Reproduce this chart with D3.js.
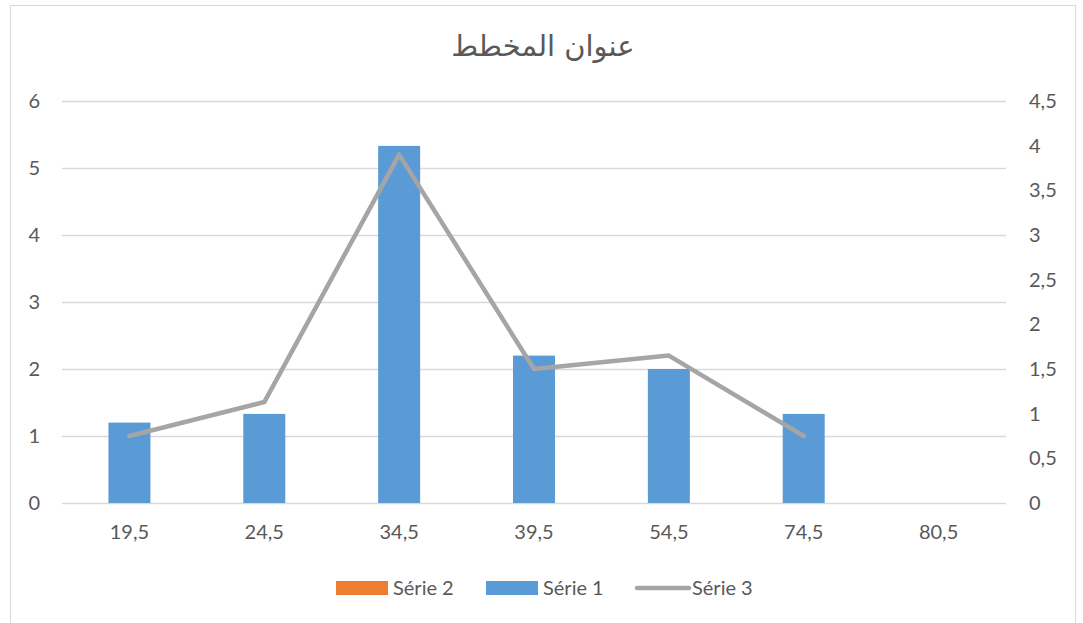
<!DOCTYPE html>
<html>
<head>
<meta charset="utf-8">
<script src="https://cdn.jsdelivr.net/npm/d3@7"></script>
<style>
  body { margin: 0; background: #fff; }
  text { font-family: Lato, "Open Sans", sans-serif; fill: #595959; }
</style>
</head>
<body>
<div id="chart"></div>
<script>
// chart data
const categories = ["19,5", "24,5", "34,5", "39,5", "54,5", "74,5", "80,5"];
const serie1 = [1.2, 1.33, 5.33, 2.2, 2.0, 1.33, null];     // bars, left axis
const serie2 = [null, null, null, null, null, null, null];   // empty (orange)
const serie3 = [0.75, 1.13, 3.9, 1.5, 1.65, 0.75, null];     // line, right axis
const leftTicks = [0, 1, 2, 3, 4, 5, 6];
const rightTicks = [0, 0.5, 1, 1.5, 2, 2.5, 3, 3.5, 4, 4.5];
const title = "عنوان المخطط";

const width = 1083;
const height = 623;
const margin = { top: 101, right: 77, bottom: 120, left: 62 };
const fmt = d => String(d).replace(".", ",");

const svg = d3.select("#chart")
    .append("svg")
    .attr("width", width)
    .attr("height", height);

// chart border
svg.append("rect")
    .attr("x", 10.5).attr("y", 5.5)
    .attr("width", 1065).attr("height", 640)
    .attr("fill", "#fff")
    .attr("stroke", "#d9d9d9");

const xScale = d3.scaleBand()
    .domain(categories)
    .range([margin.left, width - margin.right]);

const yLeft = d3.scaleLinear()
    .domain([0, 6])
    .range([height - margin.bottom, margin.top]);

const yRight = d3.scaleLinear()
    .domain([0, 4.5])
    .range([height - margin.bottom, margin.top]);

// gridlines
svg.append("g")
    .selectAll("line")
    .data(leftTicks)
    .enter()
    .append("line")
    .attr("x1", margin.left)
    .attr("x2", width - margin.right)
    .attr("y1", d => Math.round(yLeft(d)) + 0.5)
    .attr("y2", d => Math.round(yLeft(d)) + 0.5)
    .attr("stroke", "#d9d9d9")
    .attr("stroke-width", 1.5);

// left axis
const leftAxis = svg.append("g")
    .attr("transform", `translate(${margin.left - 22},0)`)
    .call(d3.axisLeft(yLeft).tickValues(leftTicks).tickFormat(fmt).tickSize(0).tickPadding(0));
leftAxis.select(".domain").remove();
leftAxis.selectAll("text").style("font-size", "20px").attr("fill", "#595959");

// right axis
const rightAxis = svg.append("g")
    .attr("transform", `translate(${width - margin.right + 23},0)`)
    .call(d3.axisRight(yRight).tickValues(rightTicks).tickFormat(fmt).tickSize(0).tickPadding(0));
rightAxis.select(".domain").remove();
rightAxis.selectAll("text").style("font-size", "20px").attr("fill", "#595959");

// x axis labels
const xAxis = svg.append("g")
    .attr("transform", `translate(0,${height - margin.bottom + 22})`)
    .call(d3.axisBottom(xScale).tickSize(0).tickPadding(0));
xAxis.select(".domain").remove();
xAxis.selectAll("text").style("font-size", "20px").attr("fill", "#595959");

// bars (Série 1)
const barW = 42;
svg.append("g")
    .selectAll("rect")
    .data(categories.map((c, i) => ({ c, v: serie1[i] })).filter(d => d.v != null))
    .enter()
    .append("rect")
    .attr("x", d => xScale(d.c) + xScale.bandwidth() / 2 - barW / 2)
    .attr("y", d => yLeft(d.v))
    .attr("width", barW)
    .attr("height", d => yLeft(0) - yLeft(d.v))
    .attr("fill", "#5b9bd5");

// line (Série 3)
const line = d3.line()
    .defined(d => d.v != null)
    .x(d => xScale(d.c) + xScale.bandwidth() / 2)
    .y(d => yRight(d.v));

svg.append("path")
    .datum(categories.map((c, i) => ({ c, v: serie3[i] })))
    .attr("d", line)
    .attr("fill", "none")
    .attr("stroke", "#a5a5a5")
    .attr("stroke-width", 4.5)
    .attr("stroke-linejoin", "round")
    .attr("stroke-linecap", "round");

// title
svg.append("text")
    .attr("x", 543)
    .attr("y", 56)
    .attr("text-anchor", "middle")
    .style("font-family", "'DejaVu Sans', sans-serif")
    .style("font-size", "29px")
    .text(title);

// legend
const legend = svg.append("g");
const legendItems = [
    { name: "Série 2", color: "#ed7d31", type: "rect", x: 336 },
    { name: "Série 1", color: "#5b9bd5", type: "rect", x: 486 },
    { name: "Série 3", color: "#a5a5a5", type: "line", x: 635 }
];
legendItems.forEach(d => {
    if (d.type === "rect") {
        legend.append("rect")
            .attr("x", d.x).attr("y", 581)
            .attr("width", 52).attr("height", 14)
            .attr("fill", d.color);
    } else {
        legend.append("line")
            .attr("x1", d.x + 2).attr("x2", d.x + 54)
            .attr("y1", 588).attr("y2", 588)
            .attr("stroke", d.color)
            .attr("stroke-width", 4.5)
            .attr("stroke-linecap", "round");
    }
    legend.append("text")
        .attr("x", d.x + 57)
        .attr("y", 588)
        .attr("dy", "0.35em")
        .style("font-size", "20px")
        .text(d.name);
});
</script>
</body>
</html>
